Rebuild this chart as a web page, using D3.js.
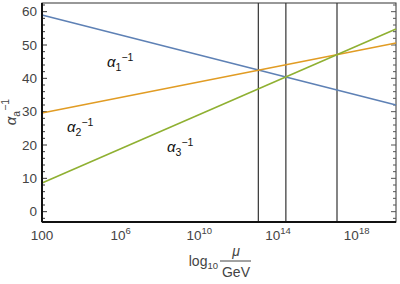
<!DOCTYPE html>
<html>
<head>
<meta charset="utf-8">
<script src="https://cdn.jsdelivr.net/npm/d3@7"></script>
<style>
  body { margin: 0; background: #fff; }
  text { font-family: "Liberation Sans", Arial, sans-serif; }
</style>
</head>
<body>
<script>
var w = 400;
var h = 284;

// log10(mu/GeV) at the two ends of each running line
var logMu = [2, 20];
var alpha1 = [59.0, 32.0];
var alpha2 = [29.6, 50.6];
var alpha3 = [8.6, 54.8];
// unification crossings (vertical lines)
var crossings = [13.0, 14.4, 17.0];
var xTicks = [2, 6, 10, 14, 18];
var xTickLabels = ["100", "10^6", "10^10", "10^14", "10^18"];
var yTicks = [0, 10, 20, 30, 40, 50, 60];

var margin = { left: 42, right: 4, top: 3, bottom: 62 };

var x = d3.scaleLinear().domain([2, 20]).range([margin.left, w - margin.right]);
var y = d3.scaleLinear().domain([-3.1, 62.6]).range([h - margin.bottom, margin.top]);

var svg = d3.select("body")
  .append("svg")
  .attr("width", w)
  .attr("height", h);

// Frame: top & right thin, left & bottom heavier
svg.append("rect")
  .attr("x", x(2)).attr("y", y(62.6))
  .attr("width", x(20) - x(2)).attr("height", y(-3.1) - y(62.6))
  .attr("fill", "none").attr("stroke", "#333").attr("stroke-width", 1);

// Minor/major ticks on left and right
var minor = d3.range(-2, 63, 2);
minor.forEach(function(v) {
  var len = (v % 10 === 0) ? 5 : 3;
  svg.append("line")
    .attr("x1", x(2)).attr("x2", x(2) + len)
    .attr("y1", y(v)).attr("y2", y(v))
    .attr("stroke", "#333").attr("stroke-width", 1);
  svg.append("line")
    .attr("x1", x(20)).attr("x2", x(20) - len)
    .attr("y1", y(v)).attr("y2", y(v))
    .attr("stroke", "#555").attr("stroke-width", 1);
});

// y tick labels
svg.selectAll(".ylab")
  .data(yTicks)
  .enter()
  .append("text")
  .attr("x", x(2) - 5)
  .attr("y", function(d) { return y(d); })
  .attr("dy", "0.35em")
  .attr("text-anchor", "end")
  .attr("font-size", 13.5)
  .attr("fill", "#444")
  .text(function(d) { return d; });

// x tick labels (powers of ten with superscripts)
xTicks.forEach(function(t, i) {
  var lab = xTickLabels[i];
  var g = svg.append("text")
    .attr("x", x(t))
    .attr("y", y(-3.1) + 18)
    .attr("text-anchor", "middle")
    .attr("font-size", 13.5)
    .attr("fill", "#444");
  if (lab.indexOf("^") < 0) {
    g.text(lab);
  } else {
    var parts = lab.split("^");
    g.append("tspan").text(parts[0]);
    g.append("tspan").attr("font-size", 9.5).attr("dy", -6).text(parts[1]);
  }
});

// Vertical crossing lines
svg.selectAll(".vline")
  .data(crossings)
  .enter()
  .append("line")
  .attr("x1", function(d) { return x(d); })
  .attr("x2", function(d) { return x(d); })
  .attr("y1", y(62.6))
  .attr("y2", y(-3.1))
  .attr("stroke", "#333")
  .attr("stroke-width", 1.2);

// Running couplings
var series = [
  { vals: alpha1, color: "#5e81b5" },
  { vals: alpha2, color: "#e19c24" },
  { vals: alpha3, color: "#8fb032" }
];
var line = d3.line()
  .x(function(d) { return x(d[0]); })
  .y(function(d) { return y(d[1]); });

series.forEach(function(s) {
  svg.append("path")
    .datum(d3.zip(logMu, s.vals))
    .attr("fill", "none")
    .attr("stroke", s.color)
    .attr("stroke-width", 1.6)
    .attr("d", line);
});

// Heavier left and bottom axis lines
svg.append("line")
  .attr("x1", x(2)).attr("x2", x(2))
  .attr("y1", y(62.6)).attr("y2", y(-3.1))
  .attr("stroke", "#111").attr("stroke-width", 2);
svg.append("line")
  .attr("x1", x(2)).attr("x2", x(20))
  .attr("y1", y(-3.1)).attr("y2", y(-3.1))
  .attr("stroke", "#111").attr("stroke-width", 2);

// Series labels
function alphaLabel(px, py, sub) {
  var t = svg.append("text")
    .attr("x", px).attr("y", py)
    .attr("font-size", 15)
    .attr("fill", "#111");
  t.append("tspan").attr("font-style", "italic").text("\u03b1");
  t.append("tspan").attr("font-size", 10.5).attr("dy", 4).text(sub);
  t.append("tspan").attr("font-size", 10.5).attr("dy", -10).text("\u22121");
}
alphaLabel(107, 67, "1");
alphaLabel(67, 132, "2");
alphaLabel(167, 152, "3");

// y axis label
var yl = svg.append("text")
  .attr("transform", "translate(16,112) rotate(-90)")
  .attr("text-anchor", "middle")
  .attr("font-size", 15)
  .attr("fill", "#444");
yl.append("tspan").attr("font-style", "italic").text("\u03b1");
yl.append("tspan").attr("font-size", 10.5).attr("dy", 4).text("a");
yl.append("tspan").attr("font-size", 10.5).attr("dy", -11).text("\u22121");

// x axis label: log10 mu / GeV
var xl = svg.append("text")
  .attr("x", 218).attr("y", 266)
  .attr("text-anchor", "end")
  .attr("font-size", 14)
  .attr("fill", "#444");
xl.append("tspan").text("log");
xl.append("tspan").attr("font-size", 9.5).attr("dy", 3).text("10");
svg.append("text")
  .attr("x", 236).attr("y", 256)
  .attr("text-anchor", "middle")
  .attr("font-size", 14)
  .attr("font-style", "italic")
  .attr("fill", "#444")
  .text("\u03bc");
svg.append("line")
  .attr("x1", 220).attr("x2", 251)
  .attr("y1", 261).attr("y2", 261)
  .attr("stroke", "#444").attr("stroke-width", 1);
svg.append("text")
  .attr("x", 236).attr("y", 277)
  .attr("text-anchor", "middle")
  .attr("font-size", 14)
  .attr("fill", "#444")
  .text("GeV");
</script>
</body>
</html>
